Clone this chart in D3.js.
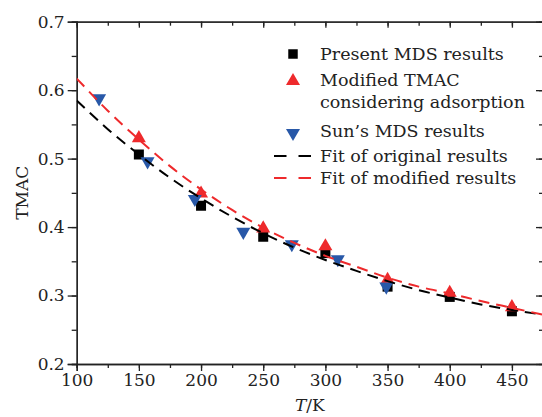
<!DOCTYPE html>
<html>
<head>
<meta charset="utf-8">
<script src="https://cdn.jsdelivr.net/npm/d3@7"></script>
<style>
  body { margin: 0; background: #fff; }
  svg text { font-family: "DejaVu Serif", "Liberation Serif", serif; fill: #222; }
</style>
</head>
<body>
<div id="chart"></div>
<script>
// present MDS results (black squares)
var presentT = [150, 200, 250, 300, 350, 400, 450];
var presentV = [0.506, 0.431, 0.386, 0.362, 0.313, 0.298, 0.277];

// modified TMAC considering adsorption (red triangles)
var modT = [150, 200, 250, 300, 350, 400, 450];
var modV = [0.530, 0.449, 0.398, 0.372, 0.323, 0.304, 0.283];

// Sun's MDS results (blue down triangles)
var sunT = [118, 157, 195, 234, 273, 310, 349];
var sunV = [0.588, 0.496, 0.441, 0.393, 0.375, 0.353, 0.313];

// fit curves
var fitT = [100, 125, 150, 175, 200, 225, 250, 275, 300, 325, 350, 375, 400, 425, 450, 475];
var fitOrig = [0.585, 0.543, 0.506, 0.472, 0.442, 0.415, 0.391, 0.370, 0.352, 0.336, 0.321, 0.308, 0.297, 0.287, 0.279, 0.272];
var fitMod = [0.617, 0.570, 0.528, 0.489, 0.455, 0.425, 0.399, 0.377, 0.358, 0.342, 0.326, 0.313, 0.303, 0.292, 0.282, 0.272];

var legendLabels = [["Present MDS results"], ["Modified TMAC", "considering adsorption"], ["Sun\u2019s MDS results"], ["Fit of original results"], ["Fit of modified results"]];

var xTicks = [100, 150, 200, 250, 300, 350, 400, 450];
var yTicks = [0.2, 0.3, 0.4, 0.5, 0.6, 0.7];

var W = 542, H = 417;
var margin = { top: 21.7, right: -1, bottom: 53, left: 76.7 };
var w = W - margin.left - margin.right;
var h = H - margin.top - margin.bottom;

var red = "#ee2a2c", blue = "#2858a8";
var fs = "17px";
var legFs = "17.5px";

var svg = d3.select("#chart").append("svg")
  .attr("width", W)
  .attr("height", H);

var g = svg.append("g")
  .attr("transform", "translate(" + margin.left + "," + margin.top + ")");

var x = d3.scaleLinear().domain([100, 475]).range([0, w]);
var y = d3.scaleLinear().domain([0.2, 0.7]).range([h, 0]);

svg.append("defs").append("clipPath").attr("id", "clip")
  .append("rect").attr("width", w).attr("height", h);

// axes
function styleAxis(sel) {
  sel.selectAll("path").attr("stroke", "#222").attr("stroke-width", 1.3);
  sel.selectAll("line").attr("stroke", "#222").attr("stroke-width", 1.3);
  sel.selectAll("text").style("font-size", fs).attr("fill", "#222");
}

var xMinor = d3.range(100, 476, 25);
var yMinor = d3.range(0.2, 0.701, 0.05);

g.append("g").attr("transform", "translate(0," + h + ")")
  .call(d3.axisBottom(x).tickValues(xMinor).tickSize(4).tickFormat(""))
  .call(styleAxis);
g.append("g").attr("transform", "translate(0," + h + ")")
  .call(d3.axisBottom(x).tickValues(xTicks).tickSize(7).tickPadding(3).tickFormat(d3.format("d")))
  .call(styleAxis);

g.append("g")
  .call(d3.axisLeft(y).tickValues(yMinor).tickSize(5).tickFormat(""))
  .call(styleAxis);
g.append("g")
  .call(d3.axisLeft(y).tickValues(yTicks).tickSize(9).tickPadding(3).tickFormat(d3.format(".1f")))
  .call(styleAxis);

g.append("g")
  .call(d3.axisTop(x).tickValues(xMinor).tickSizeInner(-4).tickSizeOuter(0).tickFormat(""))
  .call(styleAxis);
g.append("g")
  .call(d3.axisTop(x).tickValues(xTicks).tickSizeInner(-6).tickSizeOuter(0).tickFormat(""))
  .call(styleAxis);
g.append("g").attr("transform", "translate(" + w + ",0)")
  .call(d3.axisRight(y).tickValues(yMinor).tickSizeInner(-4).tickSizeOuter(0).tickFormat(""))
  .call(styleAxis);
g.append("g").attr("transform", "translate(" + w + ",0)")
  .call(d3.axisRight(y).tickValues(yTicks).tickSizeInner(-7).tickSizeOuter(0).tickFormat(""))
  .call(styleAxis);

// axis titles
svg.append("text")
  .attr("transform", "translate(22," + (margin.top + h / 2) + ") rotate(-90)")
  .attr("text-anchor", "middle")
  .attr("dy", "0.35em")
  .style("font-size", fs)
  .text("TMAC");

var xt = svg.append("text")
  .attr("x", margin.left + x(287.5))
  .attr("y", 405)
  .attr("text-anchor", "middle")
  .attr("dy", "0.35em")
  .style("font-size", fs);
xt.append("tspan").style("font-style", "italic").text("T");
xt.append("tspan").text("/K");

// markers
var sym = {
  square: d3.symbol().type(d3.symbolSquare).size(100),
  up: d3.symbol().type(d3.symbolTriangle).size(85)
};

function toPts(ts, vs) {
  return ts.map(function (t, i) { return { t: t, v: vs[i] }; });
}

var plot = g.append("g").attr("clip-path", "url(#clip)");

plot.selectAll(".sq").data(toPts(presentT, presentV)).enter()
  .append("path").attr("class", "sq")
  .attr("d", sym.square())
  .attr("transform", function (d) { return "translate(" + x(d.t) + "," + y(d.v) + ")"; })
  .attr("fill", "#000");

plot.selectAll(".up").data(toPts(modT, modV)).enter()
  .append("path").attr("class", "up")
  .attr("d", sym.up())
  .attr("transform", function (d) { return "translate(" + x(d.t) + "," + y(d.v) + ")"; })
  .attr("fill", red);

plot.selectAll(".down").data(toPts(sunT, sunV)).enter()
  .append("path").attr("class", "down")
  .attr("d", sym.up())
  .attr("transform", function (d) { return "translate(" + x(d.t) + "," + y(d.v) + ") rotate(180)"; })
  .attr("fill", blue);

// fit lines
var line = d3.line()
  .x(function (d) { return x(d.t); })
  .y(function (d) { return y(d.v); })
  .curve(d3.curveMonotoneX);

plot.append("path").datum(toPts(fitT, fitOrig))
  .attr("d", line)
  .attr("fill", "none").attr("stroke", "#000")
  .attr("stroke-width", 2).attr("stroke-dasharray", "11,7");

plot.append("path").datum(toPts(fitT, fitMod))
  .attr("d", line)
  .attr("fill", "none").attr("stroke", red)
  .attr("stroke-width", 2).attr("stroke-dasharray", "11,7");

// legend
var leg = svg.append("g");
var rows = [
  { kind: "square", y: 54, color: "#000" },
  { kind: "up", y: 80, color: red },
  { kind: "down", y: 131, color: blue },
  { kind: "dash", y: 156, color: "#000" },
  { kind: "dash", y: 178, color: red }
];

rows.forEach(function (r, i) {
  if (r.kind === "square") {
    leg.append("path").attr("d", d3.symbol().type(d3.symbolSquare).size(90)())
      .attr("transform", "translate(293," + r.y + ")").attr("fill", r.color);
  } else if (r.kind === "up") {
    leg.append("path").attr("d", sym.up())
      .attr("transform", "translate(293," + (r.y + 1) + ")").attr("fill", r.color);
  } else if (r.kind === "down") {
    leg.append("path").attr("d", sym.up())
      .attr("transform", "translate(293," + (r.y + 2) + ") rotate(180)").attr("fill", r.color);
  } else {
    leg.append("line").attr("x1", 274).attr("x2", 311).attr("y1", r.y).attr("y2", r.y)
      .attr("stroke", r.color).attr("stroke-width", 2).attr("stroke-dasharray", "12.5,12");
  }
  var t = leg.append("text").attr("x", 320).attr("y", r.y)
    .style("font-size", legFs);
  legendLabels[i].forEach(function (s, k) {
    t.append("tspan").attr("x", 320).attr("dy", k === 0 ? "0.35em" : "1.25em").text(s);
  });
});
</script>
</body>
</html>
